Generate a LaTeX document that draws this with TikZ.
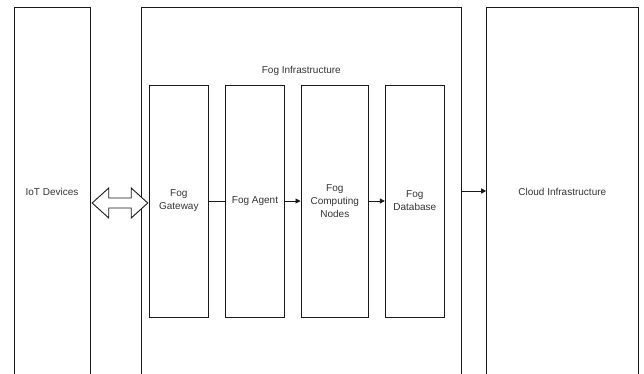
\documentclass[tikz,border=0pt]{standalone}
\usepackage{fontspec}
\setmainfont{Liberation Sans}
\usetikzlibrary{arrows.meta,calc}
\begin{document}
\begin{tikzpicture}[x=1pt,y=-1pt,
  font=\fontsize{10}{13}\selectfont,
  box/.style={draw=black!90, line width=0.9pt, inner sep=0pt, align=center, text=black!80},
  conn/.style={draw=black!90, line width=0.9pt},
  arr/.style={conn, -{Triangle[length=5pt,width=5pt]}}]
\useasboundingbox (0,0) rectangle (644,373);
\clip (0,0) rectangle (644,373);
% outer columns
\node[box, minimum width=76pt, minimum height=370pt] (iot) at (52,192) {IoT Devices};
\node[box, minimum width=320.7pt, minimum height=370pt] (fog) at (301.3,192) {};
\node[box, minimum width=151.3pt, minimum height=370pt] (cloud) at (562.3,192) {Cloud Infrastructure};
\node[text=black!80] (foglbl) at (301.3,71) {Fog Infrastructure};
% inner boxes
\node[box, minimum width=59.7pt, minimum height=232pt] (gw) at (178.8,201) {Fog\\Gateway};
\node[box, minimum width=59.4pt, minimum height=232pt] (agent) at (255,201) {Fog Agent};
\node[box, minimum width=67.7pt, minimum height=232pt] (comp) at (334.8,201) {Fog\\Computing\\Nodes};
\node[box, minimum width=59pt, minimum height=232pt] (db) at (414.8,201) {Fog\\Database};
% connectors
\draw[conn] (gw.east) -- (agent.west);
\draw[arr] (agent.east) -- (comp.west);
\draw[arr] (comp.east) -- (db.west);
\draw[arr] ($(fog.east)+(0,-1)$) -- ($(cloud.west)+(0,-1)$);
% double block arrow between IoT devices and gateway
\coordinate (la) at ($(iot.east)+(1.7,11)$);
\coordinate (ra) at ($(gw.west)+(-0.7,2)$);
\draw[conn, fill=white, line join=miter]
  (la) -- ($(la)+(16.6,-15)$) -- ($(la)+(16.6,-5)$) -- ($(ra)+(-16.6,-5)$) -- ($(ra)+(-16.6,-15)$)
  -- (ra) -- ($(ra)+(-16.6,15)$) -- ($(ra)+(-16.6,5)$) -- ($(la)+(16.6,5)$) -- ($(la)+(16.6,15)$) -- cycle;
\end{tikzpicture}
\end{document}
